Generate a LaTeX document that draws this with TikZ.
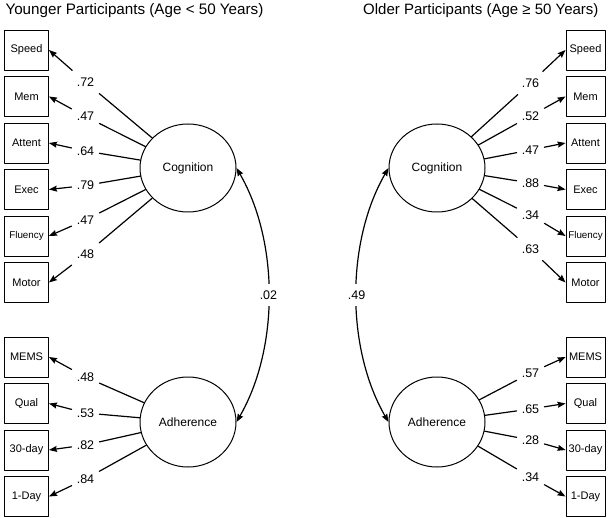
\documentclass[tikz,border=0pt]{standalone}
\usepackage{fontspec}
\setmainfont{Liberation Sans}
\usepackage{tikz}
\usetikzlibrary{arrows.meta, shapes.geometric, positioning}

\begin{document}
\begin{tikzpicture}[x=1pt, y=1pt, line join=round, line cap=round,
		indbox/.style={draw, line width=0.9pt, minimum height=40pt, inner sep=0pt,
			font=\fontsize{11}{13}\selectfont},
		latent/.style={draw, ellipse, line width=1pt, minimum width=96pt, inner sep=0pt,
			font=\fontsize{12}{14}\selectfont},
		load/.style={inner xsep=5pt, inner ysep=7pt, font=\fontsize{12.5}{14}\selectfont},
		path/.style={line width=1.2pt},
		arr/.style={line width=1.2pt, -{Stealth[length=8pt, width=6pt, inset=1pt]}},
		cov/.style={line width=1.2pt, {Stealth[length=8pt, width=6pt, inset=1pt]}-{Stealth[length=8pt, width=6pt, inset=1pt]}}]
	\useasboundingbox (0,0) rectangle (610,517);
	
	\node[anchor=base west, font=\fontsize{15.2}{18}\selectfont] (ttlY) at (2,502) {Younger Participants (Age < 50 Years)};
	\node[anchor=base east, font=\fontsize{15}{18}\selectfont] (ttlO) at (602,502) {Older Participants (Age ≥ 50 Years)};
	
	% --- LEFT: younger participants ---
	\node[latent, minimum height=88pt] (ycog) at (188,349) {Cognition};
	\node[latent, minimum height=90pt] (yadh) at (188,95) {Adherence};
	
	\foreach \txt/\val/\ly [count=\i from 0] in {Speed/.72/435, Mem/.47/400.5, Attent/.64/366,
		Exec/.79/331.5, {\fontsize{9.8}{11}\selectfont Fluency}/.47/297, Motor/.48/262.5}{
		\node[indbox, minimum width=44pt] (yb\i) at (26.5,{467-46.5*\i}) {\txt};
		\node[load] (yl\i) at (85.5,\ly) {\val};
		\draw[path] (ycog) -- (yl\i);
		\draw[arr] (yl\i) -- (yb\i.east);
	}
	
	\foreach \txt/\val/\ly [count=\i from 0] in {MEMS/.48/140, Qual/.53/104, 30-day/.82/72, 1-Day/.84/38}{
		\node[indbox, minimum width=44pt] (ya\i) at (26.5,{160-46.5*\i}) {\txt};
		\node[load] (yk\i) at (85.5,\ly) {\val};
		\draw[path] (yadh) -- (yk\i);
		\draw[arr] (yk\i) -- (ya\i.east);
	}
	
	\draw[cov] (ycog.east) to[out=-60, in=60, looseness=0.86] node[load, fill=white] (yr) {.02} (yadh.east);
	
	% --- RIGHT: older participants ---
	\node[latent, minimum height=88pt] (ocog) at (437,349) {Cognition};
	\node[latent, minimum height=90pt] (oadh) at (437,95) {Adherence};
	
	\foreach \txt/\val/\ly [count=\i from 0] in {Speed/.76/434, Mem/.52/401, Attent/.47/367,
		Exec/.88/334, {\fontsize{9.8}{11}\selectfont Fluency}/.34/302, Motor/.63/268}{
		\node[indbox, minimum width=39pt] (ob\i) at (585.5,{467-46.5*\i}) {\txt};
		\node[load] (ol\i) at (530.5,\ly) {\val};
		\draw[path] (ocog) -- (ol\i);
		\draw[arr] (ol\i) -- (ob\i.west);
	}
	
	\foreach \txt/\val/\ly [count=\i from 0] in {MEMS/.57/144, Qual/.65/108, 30-day/.28/77, 1-Day/.34/40}{
		\node[indbox, minimum width=39pt] (oa\i) at (585.5,{160-46.5*\i}) {\txt};
		\node[load] (ok\i) at (530.5,\ly) {\val};
		\draw[path] (oadh) -- (ok\i);
		\draw[arr] (ok\i) -- (oa\i.west);
	}
	
	\draw[cov] (ocog.west) to[out=-120, in=120, looseness=0.86] node[load, fill=white] (or) {.49} (oadh.west);
\end{tikzpicture}
\end{document}
